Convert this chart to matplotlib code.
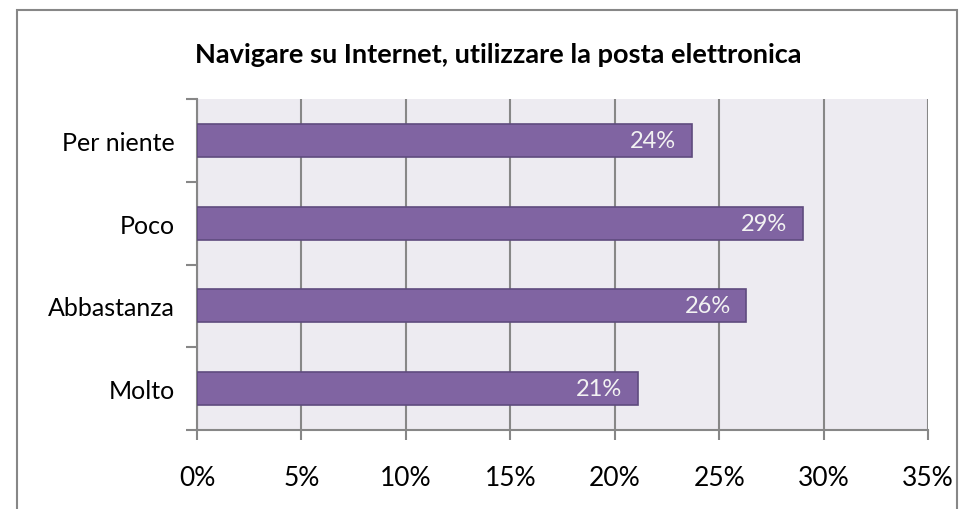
import matplotlib.pyplot as plt
from matplotlib.patches import Rectangle

plt.rcParams['font.family'] = ['Lato', 'DejaVu Sans']

# === Data ===
categories = ["Molto", "Abbastanza", "Poco", "Per niente"]
values = [21.1, 26.3, 29.0, 23.7]
labels = ["21%", "26%", "29%", "24%"]
title = "Navigare su Internet, utilizzare la posta elettronica"

fig = plt.figure(figsize=(9.6, 5.1), dpi=100)
W, H = 960, 510

# outer chart border (bottom edge falls outside the image)
fig.patches.append(Rectangle((17 / W, -5 / H), (957 - 17) / W, (H - 11 + 5) / H,
                             transform=fig.transFigure, fill=False,
                             edgecolor="#878787", linewidth=1.5))

ax = fig.add_axes([197 / W, (H - 431) / H, (928 - 197) / W, (431 - 100) / H])
ax.set_facecolor("#EDEBF1")

y = range(len(categories))
ax.barh(y, values, height=0.4, color="#8064A2", edgecolor="#5F4B7E",
        linewidth=1.2, zorder=3)

for i, (v, lab) in enumerate(zip(values, labels)):
    ax.text(v - 0.75, i, lab, ha="right", va="center", color="#F2F2F2",
            fontsize=17, zorder=4)

ax.set_xlim(0, 35)
ax.set_ylim(-0.5, len(categories) - 0.5)
ax.set_xticks(range(0, 36, 5))
ax.set_xticklabels([f"{t}%" for t in range(0, 36, 5)], fontsize=19)
ax.set_yticks(list(y))
ax.set_yticklabels(categories, fontsize=18)
ax.set_yticks([i - 0.5 for i in range(len(categories) + 1)], minor=True)
ax.tick_params(axis="y", which="major", length=0, pad=16)
ax.tick_params(axis="y", which="minor", length=8, width=1.5, color="#878787")
ax.tick_params(axis="x", length=7, width=1.5, color="#878787", pad=18)

ax.grid(axis="x", color="#878787", linewidth=1.5, zorder=1)
ax.set_axisbelow(True)
for s in ["top", "right"]:
    ax.spines[s].set_visible(False)
for s in ["left", "bottom"]:
    ax.spines[s].set_color("#878787")
    ax.spines[s].set_linewidth(1.5)

fig.text(498 / W, (H - 55) / H, title, ha="center", va="center",
         fontsize=19.5, fontweight="bold")

plt.savefig("out.png", dpi=100)
